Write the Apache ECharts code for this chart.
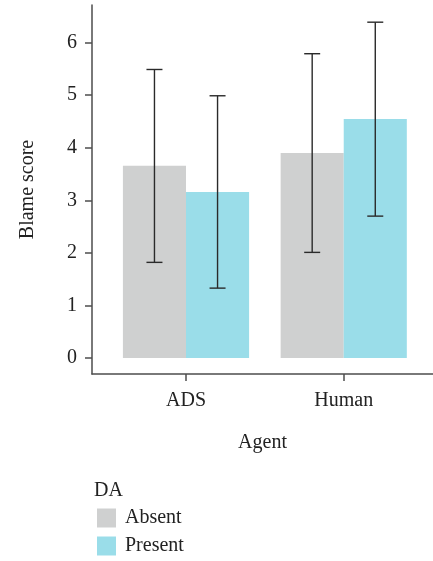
<!DOCTYPE html>
<html><head><meta charset="utf-8">
<script src="https://cdn.jsdelivr.net/npm/echarts@6/dist/echarts.min.js"></script>
<style>html,body{margin:0;padding:0;background:#fff}#c{width:433px;height:561px}</style>
</head><body><div id="c"></div>
<script>
const categories = ['ADS', 'Human'];
const absentMean = [3.66, 3.90];
const absentLow = [1.82, 2.01];
const absentHigh = [5.49, 5.79];
const presentMean = [3.16, 4.55];
const presentLow = [1.33, 2.70];
const presentHigh = [4.99, 6.39];
const yTicks = [0, 1, 2, 3, 4, 5, 6];
const xTicks = [1, 2];

const FONT = 'Liberation Serif';
const TXT = '#222';
const AX = '#4d4d4d';
const FS = 20;

function makeRender(off0, off1) {
  return function (params, api) {
    const x = api.value(0), v = api.value(1), lo = api.value(2), hi = api.value(3);
    const p0 = api.coord([x + off0, 0]);
    const p1 = api.coord([x + off1, v]);
    const cx = api.coord([x + (off0 + off1) / 2, lo]);
    const ch = api.coord([x + (off0 + off1) / 2, hi]);
    const style = api.style();
    const cap = 8;
    const ls = { stroke: '#2a2a2a', lineWidth: 1.4 };
    return {
      type: 'group',
      children: [
        { type: 'rect', shape: { x: p0[0], y: p1[1], width: p1[0] - p0[0], height: p0[1] - p1[1] }, style: { fill: style.fill } },
        { type: 'line', shape: { x1: cx[0], y1: cx[1], x2: ch[0], y2: ch[1] }, style: ls },
        { type: 'line', shape: { x1: cx[0] - cap, y1: cx[1], x2: cx[0] + cap, y2: cx[1] }, style: ls },
        { type: 'line', shape: { x1: ch[0] - cap, y1: ch[1], x2: ch[0] + cap, y2: ch[1] }, style: ls }
      ]
    };
  };
}

const chart = echarts.init(document.getElementById('c'), null, { renderer: 'canvas' });
chart.setOption({
  animation: false,
  backgroundColor: '#fff',
  textStyle: { fontFamily: FONT },
  title: { text: 'DA', left: 89, top: 476, textStyle: { fontFamily: FONT, fontSize: FS, fontWeight: 'normal', color: TXT } },
  legend: {
    orient: 'vertical', left: 92, top: 503, height: 100, itemWidth: 19, itemHeight: 19, itemGap: 8,
    icon: 'rect',
    data: ['Absent', 'Present'],
    textStyle: { fontFamily: FONT, fontSize: FS, color: TXT, padding: [0, 0, 0, 4] }
  },
  grid: { left: 92, right: 0, top: 5, bottom: 187 },
  xAxis: {
    type: 'value', min: 0.404, max: 2.566,
    name: 'Agent', nameLocation: 'middle', nameGap: 59,
    nameTextStyle: { fontFamily: FONT, fontSize: FS, color: TXT },
    axisLine: { show: true, onZero: false, lineStyle: { color: AX, width: 1.5 } },
    axisTick: { show: true, customValues: xTicks, length: 7, lineStyle: { color: AX, width: 1.5 } },
    axisLabel: { customValues: xTicks, formatter: v => categories[Math.round(v) - 1], margin: 17, fontFamily: FONT, fontSize: FS, color: TXT },
    splitLine: { show: false }
  },
  yAxis: {
    type: 'value', min: -0.304, max: 6.717,
    name: 'Blame score', nameLocation: 'middle', nameGap: 54,
    nameTextStyle: { fontFamily: FONT, fontSize: FS, color: TXT },
    axisLine: { show: true, onZero: false, lineStyle: { color: AX, width: 1.5 } },
    axisTick: { show: true, customValues: yTicks, length: 7, lineStyle: { color: AX, width: 1.5 } },
    axisLabel: { customValues: yTicks, margin: 15, fontFamily: FONT, fontSize: FS, color: TXT },
    splitLine: { show: false }
  },
  series: [
    {
      name: 'Absent', type: 'custom', itemStyle: { color: '#cfd0d0' },
      renderItem: makeRender(-0.4, 0),
      encode: { x: 0, y: 1 },
      data: absentMean.map((m, i) => [i + 1, m, absentLow[i], absentHigh[i]])
    },
    {
      name: 'Present', type: 'custom', itemStyle: { color: '#9adde9' },
      renderItem: makeRender(0, 0.4),
      encode: { x: 0, y: 1 },
      data: presentMean.map((m, i) => [i + 1, m, presentLow[i], presentHigh[i]])
    }
  ]
});
</script></body></html>
